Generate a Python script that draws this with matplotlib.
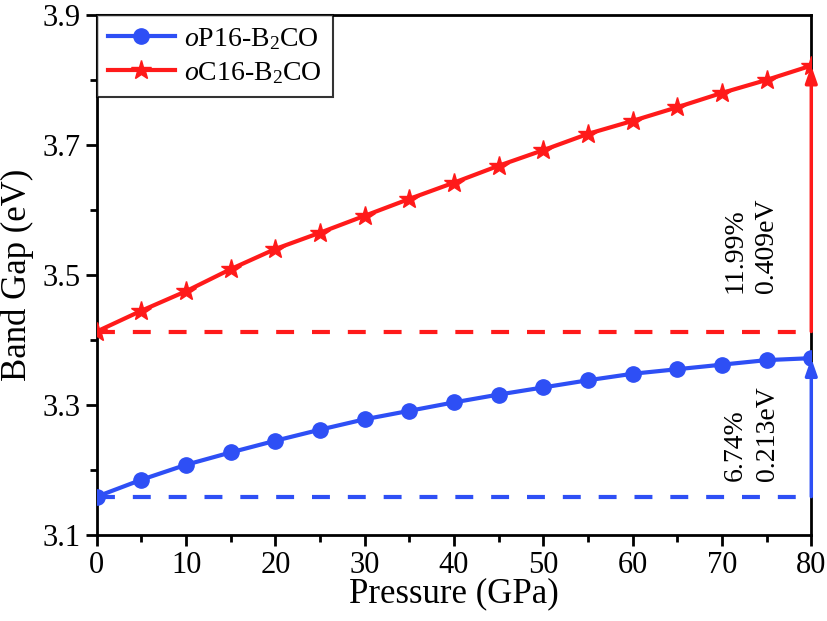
import numpy as np
import matplotlib
matplotlib.use("Agg")
import matplotlib.pyplot as plt
from matplotlib.ticker import MultipleLocator

plt.rcParams['font.family'] = ['Liberation Serif', 'DejaVu Serif']
plt.rcParams['mathtext.fontset'] = 'custom'
plt.rcParams['mathtext.rm'] = 'Liberation Serif'
plt.rcParams['mathtext.it'] = 'Liberation Serif:italic'

# pressure (GPa)
pressure = [0, 5, 10, 15, 20, 25, 30, 35, 40, 45, 50, 55, 60, 65, 70, 75, 80]

# band gaps (eV)
gap_op16 = [3.159, 3.185, 3.208, 3.227, 3.245, 3.262, 3.278, 3.291, 3.304,
            3.316, 3.327, 3.338, 3.348, 3.355, 3.362, 3.369, 3.372]
gap_oc16 = [3.413, 3.445, 3.475, 3.509, 3.540, 3.565, 3.591, 3.617, 3.642,
            3.668, 3.692, 3.717, 3.737, 3.758, 3.780, 3.800, 3.822]

labels = [r'$\it{o}$P16-B$_2$CO', r'$\it{o}$C16-B$_2$CO']
notes = ['6.74%\n0.213eV', '11.99%\n0.409eV']
y_major = [3.1, 3.3, 3.5, 3.7, 3.9]
y_minor = [3.2, 3.4, 3.6, 3.8]

blue = '#2E4FF5'
red = '#FF1A1A'

fig = plt.figure(figsize=(8.27, 6.21), dpi=100)
ax = fig.add_axes([0.117, 0.1385, 0.864, 0.8375])

ax.plot(pressure, gap_op16, color=blue, lw=3, marker='o', ms=11, label=labels[0], zorder=3)
ax.plot(pressure, gap_oc16, color=red, lw=3, marker='*', ms=15, label=labels[1], zorder=3)

# baseline dashed lines and arrows showing the change
for g, c in [(gap_op16, blue), (gap_oc16, red)]:
    ax.plot([pressure[0], pressure[-1]], [g[0], g[0]], color=c, lw=3,
            ls=(0, (4.3, 4.3)), zorder=2)
    ax.annotate('', xy=(pressure[-1], g[-1]), xytext=(pressure[-1], g[0]),
                arrowprops=dict(arrowstyle='-|>,head_length=1.0,head_width=0.35',
                                color=c, lw=2.5, shrinkA=0, shrinkB=0),
                zorder=4)

ax.text(73.3, 3.256, notes[0], rotation=90, ha='center', va='center',
        multialignment='left', fontsize=20, linespacing=1.35)
ax.text(73.2, 3.545, notes[1], rotation=90, ha='center', va='center',
        multialignment='left', fontsize=20, linespacing=1.35)

ax.set_xlim(0, 80)
ax.set_ylim(3.1, 3.9)
ax.xaxis.set_major_locator(MultipleLocator(10))
ax.xaxis.set_minor_locator(MultipleLocator(5))
ax.set_yticks(y_major)
ax.set_yticks(y_minor, minor=True)
ax.tick_params(which='both', direction='out', width=2, labelsize=22, top=False, right=False)
ax.tick_params(which='major', length=8)
ax.tick_params(which='minor', length=5)
for s in ax.spines.values():
    s.set_linewidth(2)

ax.set_xlabel('Pressure (GPa)', fontsize=25, labelpad=-2)
ax.set_ylabel('Band Gap (eV)', fontsize=25, labelpad=6)

leg = ax.legend(loc='upper left', fontsize=20, frameon=True, fancybox=False,
                borderaxespad=0.0, handlelength=2.4, handletextpad=0.35,
                borderpad=0.4, labelspacing=0.3)
leg.get_frame().set_edgecolor('black')
leg.get_frame().set_linewidth(1.5)

fig.savefig('out.png', dpi=100)
